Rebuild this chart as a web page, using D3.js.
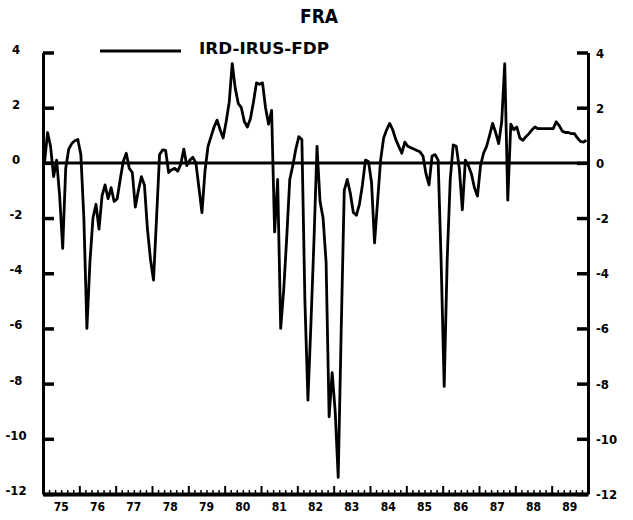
<!DOCTYPE html>
<html>
<head>
<meta charset="utf-8">
<script src="https://cdn.jsdelivr.net/npm/d3@7"></script>
<style>
  body { margin: 0; background: #fff; }
  svg text { font-family: "DejaVu Sans Condensed", "Liberation Sans Narrow", sans-serif; font-weight: bold; fill: #000; }
</style>
</head>
<body>
<div id="chart"></div>
<script>
// FRA - IRD-IRUS-FDP, monthly, 1975-1989

var yearLabels = ["75","76","77","78","79","80","81","82","83","84","85","86","87","88","89"];
var firstYear = 1975;
var yTicks = [4, 2, 0, -2, -4, -6, -8, -10, -12];

// one row per year, Jan..Dec
var spread = [
  0.0, 1.1, 0.6, -0.5, 0.1, -1.2, -3.1, -0.2, 0.5, 0.7, 0.8, 0.85,        // 75
  0.3, -2.0, -6.0, -3.6, -2.0, -1.5, -2.4, -1.2, -0.8, -1.3, -0.9, -1.4,   // 76
  -1.3, -0.6, 0.05, 0.35, -0.2, -0.35, -1.6, -1.0, -0.5, -0.8, -2.4, -3.5, // 77
  -4.25, -2.0, 0.3, 0.47, 0.45, -0.35, -0.25, -0.2, -0.3, -0.05, 0.5, -0.1, // 78
  0.1, 0.2, 0.0, -0.9, -1.8, -0.3, 0.6, 0.95, 1.3, 1.55, 1.2, 0.9,         // 79
  1.5, 2.2, 3.6, 2.7, 2.15, 2.0, 1.5, 1.3, 1.6, 2.2, 2.9, 2.85,            // 80
  2.9, 2.0, 1.4, 1.9, -2.5, -0.6, -6.0, -4.6, -2.7, -0.6, -0.1, 0.5,       // 81
  0.95, 0.85, -5.0, -8.6, -5.8, -2.8, 0.6, -1.4, -2.0, -3.6, -9.2, -7.6,   // 82
  -9.0, -11.4, -6.0, -1.0, -0.6, -1.1, -1.8, -1.9, -1.5, -0.8, 0.1, 0.05,  // 83
  -0.7, -2.9, -1.4, 0.1, 0.9, 1.2, 1.43, 1.2, 0.85, 0.6, 0.35, 0.75,      // 84
  0.6, 0.55, 0.5, 0.45, 0.4, 0.25, -0.4, -0.8, 0.25, 0.3, 0.1, -3.6,      // 85
  -8.1, -3.5, -0.6, 0.65, 0.6, -0.2, -1.7, 0.1, -0.1, -0.4, -0.9, -1.2,    // 86
  -0.1, 0.35, 0.6, 1.0, 1.43, 1.1, 0.7, 1.5, 3.6, -1.35, 1.4, 1.2,        // 87
  1.3, 0.9, 0.82, 0.95, 1.06, 1.2, 1.3, 1.24, 1.24, 1.24, 1.24, 1.24,     // 88
  1.24, 1.49, 1.35, 1.15, 1.1, 1.1, 1.06, 1.06, 0.9, 0.78, 0.75, 0.82     // 89
];

var width = 633, height = 520;
var plotLeft = 43, plotRight = 588, plotTop = 52.5, plotBottom = 494;

var svg = d3.select("#chart").append("svg")
    .attr("width", width)
    .attr("height", height);

var lastYear = firstYear + yearLabels.length;

var x = d3.scaleLinear()
    .domain([firstYear, lastYear])
    .range([plotLeft, plotRight]);

var y = d3.scaleLinear()
    .domain([-12, 4])
    .range([plotBottom, plotTop]);

// title + legend
svg.append("text")
    .attr("x", 319).attr("y", 23)
    .attr("text-anchor", "middle")
    .style("font-size", "19px")
    .text("FRA");

svg.append("line")
    .attr("x1", 100).attr("x2", 181)
    .attr("y1", 51).attr("y2", 51)
    .attr("stroke", "#000").attr("stroke-width", 3);

svg.append("text")
    .attr("x", 199).attr("y", 54)
    .attr("textLength", 130)
    .attr("lengthAdjust", "spacingAndGlyphs")
    .style("font-size", "15px")
    .text("IRD-IRUS-FDP");

// left / right axes, ticks pointing in
var leftAxis = svg.append("g")
    .attr("transform", "translate(" + plotLeft + ",0)")
    .call(d3.axisRight(y).tickValues(yTicks).tickSize(11).tickSizeOuter(0).tickFormat(""));

var rightAxis = svg.append("g")
    .attr("transform", "translate(" + plotRight + ",0)")
    .call(d3.axisLeft(y).tickValues(yTicks).tickSize(11).tickSizeOuter(0).tickFormat(""));

[leftAxis, rightAxis].forEach(function(g){
    g.select(".domain").attr("stroke", "#000").attr("stroke-width", 3);
    g.selectAll(".tick line").attr("stroke", "#000").attr("stroke-width", 3.5);
});

svg.selectAll(".ylab-left")
    .data(yTicks).enter()
    .append("text")
    .attr("class", "ylab-left")
    .attr("x", 16)
    .attr("y", function(d){ return y(d) + 1; })
    .attr("text-anchor", "middle")
    .style("font-size", "13px")
    .text(function(d){ return d; });

svg.selectAll(".ylab-right")
    .data(yTicks).enter()
    .append("text")
    .attr("class", "ylab-right")
    .attr("x", 596)
    .attr("y", function(d){ return y(d) + 5; })
    .style("font-size", "13px")
    .text(function(d){ return d; });

// bottom axis: bi-monthly minor ticks, taller tick at each year
var minorTicks = d3.range(firstYear * 6, lastYear * 6).map(function(d){ return d / 6; })
    .filter(function(d){ return d % 1 !== 0; });
var majorTicks = d3.range(firstYear + 1, lastYear);

var xMinor = svg.append("g")
    .attr("transform", "translate(0," + plotBottom + ")")
    .call(d3.axisTop(x).tickValues(minorTicks).tickSize(4).tickSizeOuter(0).tickFormat(""));

var xMajor = svg.append("g")
    .attr("transform", "translate(0," + plotBottom + ")")
    .call(d3.axisTop(x).tickValues(majorTicks).tickSize(8).tickSizeOuter(0).tickFormat(""));

xMinor.select(".domain").attr("stroke", "#000").attr("stroke-width", 4);
xMajor.select(".domain").remove();
xMinor.selectAll(".tick line").attr("stroke", "#000").attr("stroke-width", 1.5);
xMajor.selectAll(".tick line").attr("stroke", "#000").attr("stroke-width", 2);

svg.selectAll(".xlab")
    .data(yearLabels).enter()
    .append("text")
    .attr("class", "xlab")
    .attr("x", function(d, i){ return x(firstYear + i + 0.5); })
    .attr("y", 511)
    .attr("text-anchor", "middle")
    .style("font-size", "12px")
    .text(function(d){ return d; });

// zero line
svg.append("line")
    .attr("x1", plotLeft).attr("x2", plotRight)
    .attr("y1", y(0)).attr("y2", y(0))
    .attr("stroke", "#000").attr("stroke-width", 3);

// the series
var points = spread.map(function(v, i){
    return { t: firstYear + (i + 0.5) / 12, v: v };
});

var line = d3.line()
    .x(function(d){ return x(d.t); })
    .y(function(d){ return y(d.v); });

svg.append("path")
    .datum(points)
    .attr("d", line)
    .attr("fill", "none")
    .attr("stroke", "#000")
    .attr("stroke-width", 2.8)
    .attr("stroke-linejoin", "round");
</script>
</body>
</html>
